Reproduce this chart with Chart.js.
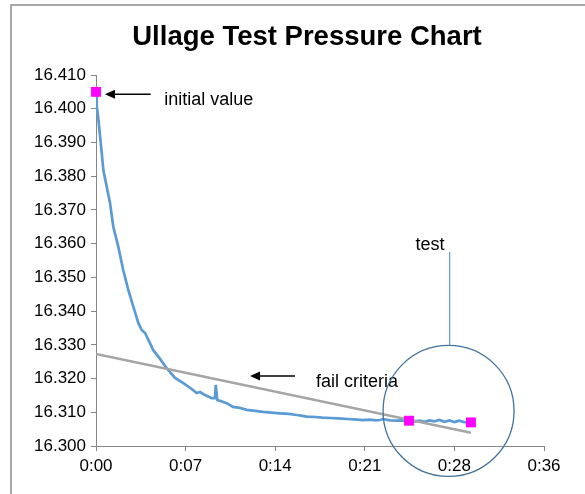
<!DOCTYPE html>
<html><head><meta charset="utf-8">
<script src="https://cdn.jsdelivr.net/npm/chart.js@4.4.1/dist/chart.umd.min.js"></script>
<style>html,body{margin:0;padding:0;background:#fff}#wrap{width:585px;height:494px;position:relative}</style>
</head><body><div id="wrap"><canvas id="c" width="585" height="494"></canvas></div>
<script>
// ---- data (minutes since start, pressure) ----
const timeMin = [0, 0.06, 0.16, 0.46, 0.59, 0.86, 1.13, 1.39, 1.79, 2.19, 2.60, 3.00, 3.40, 3.67, 3.94, 4.34, 4.60, 5.01, 5.68, 6.35, 6.99, 7.69, 8.09, 8.36, 8.76, 9.30, 9.56, 9.62, 9.75, 9.96, 10.50, 11.01, 11.57, 12.11, 12.8, 13.42, 14.1, 14.79, 15.5, 16.13, 16.5, 16.93, 17.6, 18.2, 18.8, 19.5, 20.2, 21.0, 21.46, 22.0, 22.5, 22.82, 23.09, 23.6, 24.2, 24.6, 25.15, 25.6, 26.0, 26.4, 26.8, 27.2, 27.6, 28.0, 28.4, 28.8, 29.2, 29.6, 30.13];
const pressure = [16.405, 16.4006, 16.3981, 16.3869, 16.3818, 16.3769, 16.3720, 16.3650, 16.3591, 16.3521, 16.3462, 16.3413, 16.3365, 16.3344, 16.3335, 16.3305, 16.3284, 16.3265, 16.3231, 16.3202, 16.3187, 16.3169, 16.3157, 16.3160, 16.3151, 16.3142, 16.3142, 16.3181, 16.3136, 16.3134, 16.3127, 16.3116, 16.3113, 16.3107, 16.3104, 16.3101, 16.3099, 16.3097, 16.3095, 16.3092, 16.3090, 16.3087, 16.3086, 16.3084, 16.3083, 16.3082, 16.3080, 16.3078, 16.3077, 16.3078, 16.3076, 16.3077, 16.3080, 16.3076, 16.3075, 16.3076, 16.3075, 16.3073, 16.3075, 16.3072, 16.3076, 16.3073, 16.3077, 16.3072, 16.3076, 16.3071, 16.3075, 16.3071, 16.3070];
const failTime = [0, 30.13];
const failPressure = [16.3273, 16.3039];
const markerTime = [0, 25.15, 30.13];
const markerPressure = [16.405, 16.3075, 16.3070];
const xTickLabels = ['0:00', '0:07', '0:14', '0:21', '0:28', '0:36'];
const yTickLabels = ['16.300', '16.310', '16.320', '16.330', '16.340', '16.350', '16.360', '16.370', '16.380', '16.390', '16.400', '16.410'];

const toPts = (xs, ys) => xs.map((v, i) => ({x: v, y: ys[i]}));

const frame = {
  id: 'frame',
  beforeDraw(chart) {
    const ctx = chart.ctx;
    ctx.save();
    ctx.fillStyle = '#fff';
    ctx.fillRect(0, 0, chart.width, chart.height);
    ctx.strokeStyle = '#8c8c8c';
    ctx.lineWidth = 1.5;
    ctx.beginPath();
    ctx.moveTo(11, chart.height + 2);
    ctx.lineTo(11, 5);
    ctx.lineTo(chart.width + 2, 5);
    ctx.stroke();
    ctx.restore();
  }
};

// centre the title over the Excel-style chart area
const titleShift = {
  id: 'titleShift',
  afterLayout(chart) {
    const t = chart.titleBlock;
    if (t) { t.left = 70; t.right = chart.chartArea.right; t.width = t.right - t.left; }
  }
};

const annot = {
  id: 'annot',
  afterDraw(chart, args, o) {
    const ctx = chart.ctx, xs = chart.scales.x, ys = chart.scales.y;
    const px = v => xs.getPixelForValue(v), py = v => ys.getPixelForValue(v);
    ctx.save();
    ctx.strokeStyle = '#000'; ctx.fillStyle = '#000'; ctx.lineWidth = 1.5;
    o.arrows.forEach(a => {
      const x1 = px(a.from[0]), y1 = py(a.from[1]), x2 = px(a.to[0]), y2 = py(a.to[1]);
      const ang = Math.atan2(y2 - y1, x2 - x1), L = 10, W = 4.5;
      const bx = x2 - L * Math.cos(ang), by = y2 - L * Math.sin(ang);
      ctx.beginPath(); ctx.moveTo(x1, y1); ctx.lineTo(bx, by); ctx.stroke();
      ctx.beginPath();
      ctx.moveTo(x2, y2);
      ctx.lineTo(bx + W * Math.sin(ang), by - W * Math.cos(ang));
      ctx.lineTo(bx - W * Math.sin(ang), by + W * Math.cos(ang));
      ctx.closePath(); ctx.fill();
    });
    ctx.font = '18px "Liberation Sans", Arial, sans-serif';
    ctx.textBaseline = 'alphabetic';
    o.labels.forEach(l => {
      ctx.textAlign = l.align;
      ctx.fillText(l.text, px(l.x), py(l.y));
    });
    const c = o.circle;
    const cx = px(c.x), cy = py(c.y);
    ctx.strokeStyle = '#41719C'; ctx.lineWidth = 1.3;
    ctx.beginPath(); ctx.arc(cx, cy, c.r, 0, Math.PI * 2); ctx.stroke();
    ctx.strokeStyle = '#5B9BD5'; ctx.lineWidth = 1.2;
    ctx.beginPath(); ctx.moveTo(px(o.leader.x), py(o.leader.y)); ctx.lineTo(px(o.leader.x), cy - c.r); ctx.stroke();
    ctx.restore();
  }
};

new Chart(document.getElementById('c'), {
  type: 'line',
  data: {
    datasets: [
      {label: 'markers', data: toPts(markerTime, markerPressure), showLine: false, pointStyle: 'rect', pointRadius: 7, pointHoverRadius: 7, backgroundColor: '#FF00FF', borderColor: '#FF00FF', borderWidth: 0, clip: false, order: 0},
      {label: 'fail criteria', data: toPts(failTime, failPressure), borderColor: '#A5A5A5', borderWidth: 2.5, pointRadius: 0, tension: 0, order: 1},
      {label: 'pressure', data: toPts(timeMin, pressure), borderColor: '#5B9BD5', borderWidth: 2.7, pointRadius: 0, tension: 0, order: 2}
    ]
  },
  options: {
    responsive: false,
    animation: false,
    events: [],
    layout: {padding: {left: 0, right: 41, top: 0, bottom: 0}},
    plugins: {
      legend: {display: false},
      tooltip: {enabled: false},
      title: {display: true, text: 'Ullage Test Pressure Chart', color: '#000',
        font: {family: '"Liberation Sans", Arial, sans-serif', size: 27.5, weight: 'bold', lineHeight: 1.2},
        padding: {top: 20.5, bottom: 21.5}},
      annot: {
        arrows: [{from: [4.4, 16.4043], to: [0.72, 16.4043]}, {from: [15.99, 16.32075], to: [12.38, 16.32075]}],
        labels: [{text: 'initial value', x: 5.49, y: 16.4011, align: 'left'}, {text: 'fail criteria', x: 17.68, y: 16.3176, align: 'left'}, {text: 'test', x: 26.84, y: 16.3581, align: 'center'}],
        circle: {x: 28.33, y: 16.3104, r: 65.5},
        leader: {x: 28.42, y: 16.3575}
      }
    },
    scales: {
      x: {type: 'linear', min: 0, max: 36,
        afterFit: s => { s.height = 48; },
        ticks: {stepSize: 7.2, padding: 5, color: '#000', font: {family: '"Liberation Sans", Arial, sans-serif', size: 17}, maxRotation: 0, autoSkip: false,
          callback: (v, i) => xTickLabels[i]},
        grid: {display: true, drawOnChartArea: false, drawTicks: true, tickLength: 5, color: '#868686'},
        border: {display: true, color: '#868686', width: 1}},
      y: {type: 'linear', min: 16.3, max: 16.41,
        afterFit: s => { s.width = 96; },
        ticks: {stepSize: 0.01, padding: 5, color: '#000', font: {family: '"Liberation Sans", Arial, sans-serif', size: 17}, autoSkip: false,
          callback: (v, i) => yTickLabels[i] !== undefined ? yTickLabels[i] : v.toFixed(3)},
        grid: {display: true, drawOnChartArea: false, drawTicks: true, tickLength: 5, color: '#868686'},
        border: {display: true, color: '#868686', width: 1}}
    }
  },
  plugins: [frame, titleShift, annot]
});
</script></body></html>
